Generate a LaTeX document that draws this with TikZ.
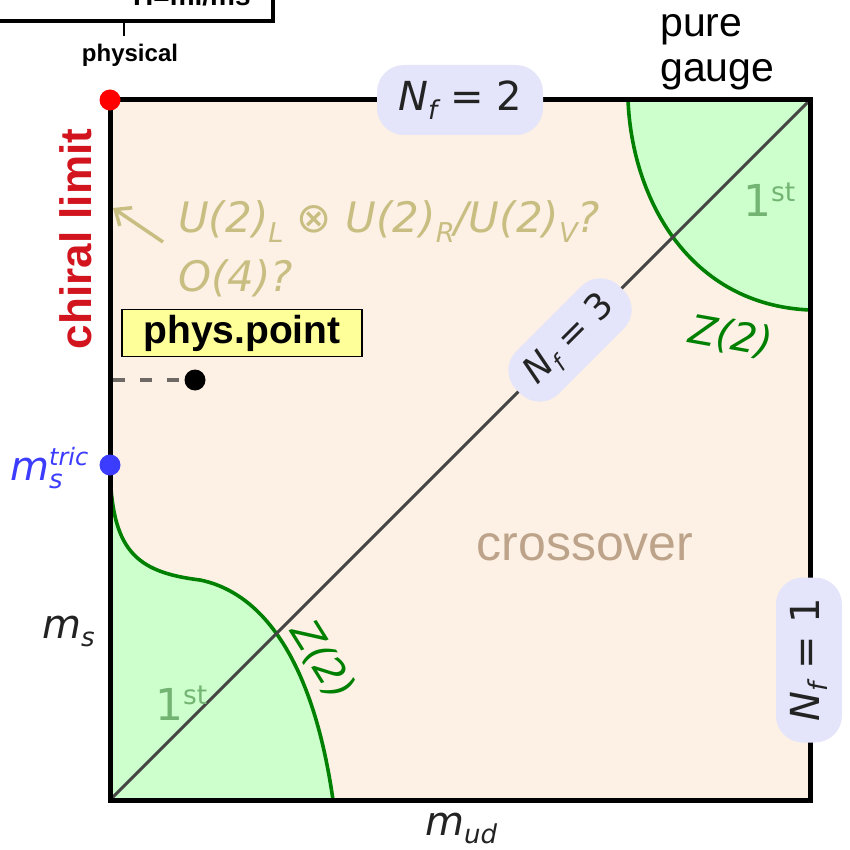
\documentclass[tikz,border=0pt]{standalone}
\usepackage{fontspec}
\setmainfont{DejaVu Sans}
\newfontfamily\lib{Liberation Sans}
\usetikzlibrary{arrows.meta}
\definecolor{peach}{RGB}{253,241,229}
\definecolor{lgreen}{RGB}{204,255,204}
\definecolor{dgreen}{RGB}{0,128,0}
\definecolor{lav}{RGB}{228,228,250}
\definecolor{khaki}{RGB}{200,190,130}
\definecolor{crosscol}{RGB}{188,163,138}
\definecolor{chiralred}{RGB}{210,20,30}
\definecolor{tricblue}{RGB}{60,60,255}
\definecolor{firstgreen}{RGB}{115,180,115}
\definecolor{physyellow}{RGB}{255,255,153}
\definecolor{diagcol}{RGB}{68,68,68}
\definecolor{labtext}{RGB}{35,35,35}
\definecolor{dashcol}{RGB}{110,105,100}
\newcommand\fs[2]{\fontsize{#1}{#2}\selectfont}
\newcommand\subs[1]{\raisebox{-0.22em}{\scalebox{0.65}{#1}}}
\newcommand\sups[1]{\raisebox{0.36em}{\scalebox{0.6}{#1}}}
\tikzset{
  dot/.style={circle, minimum size=21pt, inner sep=0pt},
  nflab/.style={fill=lav, rounded corners=27pt, minimum width=166pt, minimum height=70pt, inner sep=0pt, text=labtext, font=\fs{40}{46}},
  zlab/.style={text=dgreen, font=\itshape\fs{40}{46}, inner sep=0pt},
  firstlab/.style={text=firstgreen, font=\fs{44}{50}, inner sep=0pt},
  annot/.style={text=khaki, font=\itshape\fs{42}{48}, inner sep=0pt},
  mlab/.style={font=\itshape\fs{40}{46}, inner sep=0pt},
  zline/.style={draw=dgreen, line width=3.6pt},
  diag/.style={draw=diagcol, line width=3pt},
}
\begin{document}
\begin{tikzpicture}[x=1pt,y=-1pt]
\useasboundingbox (0,0) rectangle (849,850);
% corners
\coordinate (TL) at (110,100);
\coordinate (TR) at (810,100);
\coordinate (BL) at (110,800);
\coordinate (BR) at (810,800);
\fill[peach] (TL) rectangle (BR);
% green regions
\coordinate (tric) at (110,465);
\coordinate (bmid) at (200,580);
\coordinate (bz) at (333,800);
\coordinate (tz) at (628,100);
\coordinate (rz) at (810,310);
\fill[lgreen] (tric) .. controls (111,550) and (135,572) .. (bmid) .. controls (250,590) and (310,640) .. (bz) -- (BL) -- cycle;
\fill[lgreen] (tz) .. controls (632,200) and (690,305) .. (rz) -- (TR) -- cycle;
\draw[zline] (tric) .. controls (111,550) and (135,572) .. (bmid) .. controls (250,590) and (310,640) .. (bz);
\draw[zline] (tz) .. controls (632,200) and (690,305) .. (rz);
% diagonal
\draw[diag] (BL) -- (TR);
% frame
\draw[line width=5pt] (TL) rectangle (BR);
% top-left box
\node[draw=black, line width=4pt, minimum width=300pt, minimum height=80pt, anchor=south east, inner sep=0pt] (hbox) at (275,23) {};
\node[font=\lib\bfseries\fs{28}{32}, anchor=base west, inner sep=0pt] (hlabel) at (133,6) {H=ml/ms};
\node[font=\lib\bfseries\fs{24}{28}, anchor=base, inner sep=0pt] (physical) at (130,62) {physical};
\coordinate (tickA) at (124,23);
\coordinate (tickB) at (124,36);
\draw[line width=2pt] (tickA) -- (tickB);
% pure gauge
\node[font=\lib\fs{41}{46}, anchor=base west, inner sep=0pt] (pure) at (660,37) {pure};
\node[font=\lib\fs{41}{46}, anchor=base west, inner sep=0pt] (gauge) at (660,82) {gauge};
% chiral limit
\node[rotate=90, text=chiralred, font=\lib\bfseries\fs{44}{50}, inner sep=0pt] (chiral) at (76,239) {chiral limit};
% dots
\node[dot, fill=red] (chiralpt) at (TL) {};
\node[dot, fill=tricblue] (tricpt) at (tric) {};
\coordinate (ppaxis) at (113,380);
\draw[dashcol, line width=4pt, dash pattern=on 12pt off 15pt] (ppaxis) -- (195,380);
\node[dot, fill=black] (pp) at (195,380) {};
% phys.point label
\node[fill=physyellow, draw=black, line width=1.2pt, minimum width=240pt, minimum height=47pt, inner sep=0pt, font=\lib\bfseries\fs{39}{44}] (pplabel) at (242,333) {phys.point};
% annotation
\node[annot, anchor=base west] (uann) at (178,233) {U(2)\subs{L} {\upshape ⊗} U(2)\subs{R}/U(2)\subs{V}?};
\node[annot, anchor=base west] (oann) at (178,291) {O(4)?};
\coordinate (arrtail) at (163,242);
\coordinate (arrhead) at (113,208);
\draw[khaki, line width=3.5pt, -{Straight Barb[length=13pt,width=22pt,line width=3.5pt]}] (arrtail) -- (arrhead);
% crossover
\node[text=crosscol, font=\lib\fs{50}{56}, inner sep=0pt] (cross) at (585,547) {crossover};
% Z(2) labels
\node[zlab, rotate=-10] (ztop) at (731,337) {Z(2)};
\node[zlab, rotate=-58] (zbot) at (322,660) {Z(2)};
% first order labels
\node[firstlab, anchor=base west] (ftop) at (743,217) {1\sups{st}};
\node[firstlab, anchor=base west] (fbot) at (155,720) {1\sups{st}};
% Nf labels
\node[nflab] (nf2) at (460,100) {{\itshape N\subs{f}} = 2};
\node[nflab, rotate=45, minimum width=146pt, minimum height=60pt, font=\fs{36}{42}] (nf3) at (570,340) {{\itshape N\subs{f}} = 3};
\node[nflab, rotate=90, minimum width=165pt, minimum height=66pt] (nf1) at (809,660) {{\itshape N\subs{f}} = 1};
% axis labels
\node[mlab, text=tricblue, anchor=base west] (mtric) at (10,480) {m\rlap{\sups{tric}}\subs{s}};
\node[mlab, text=labtext, anchor=base west] (ms) at (42,638) {m\subs{s}};
\node[mlab, text=labtext, anchor=base west] (mud) at (425,835) {m\subs{ud}};
\end{tikzpicture}
\end{document}
